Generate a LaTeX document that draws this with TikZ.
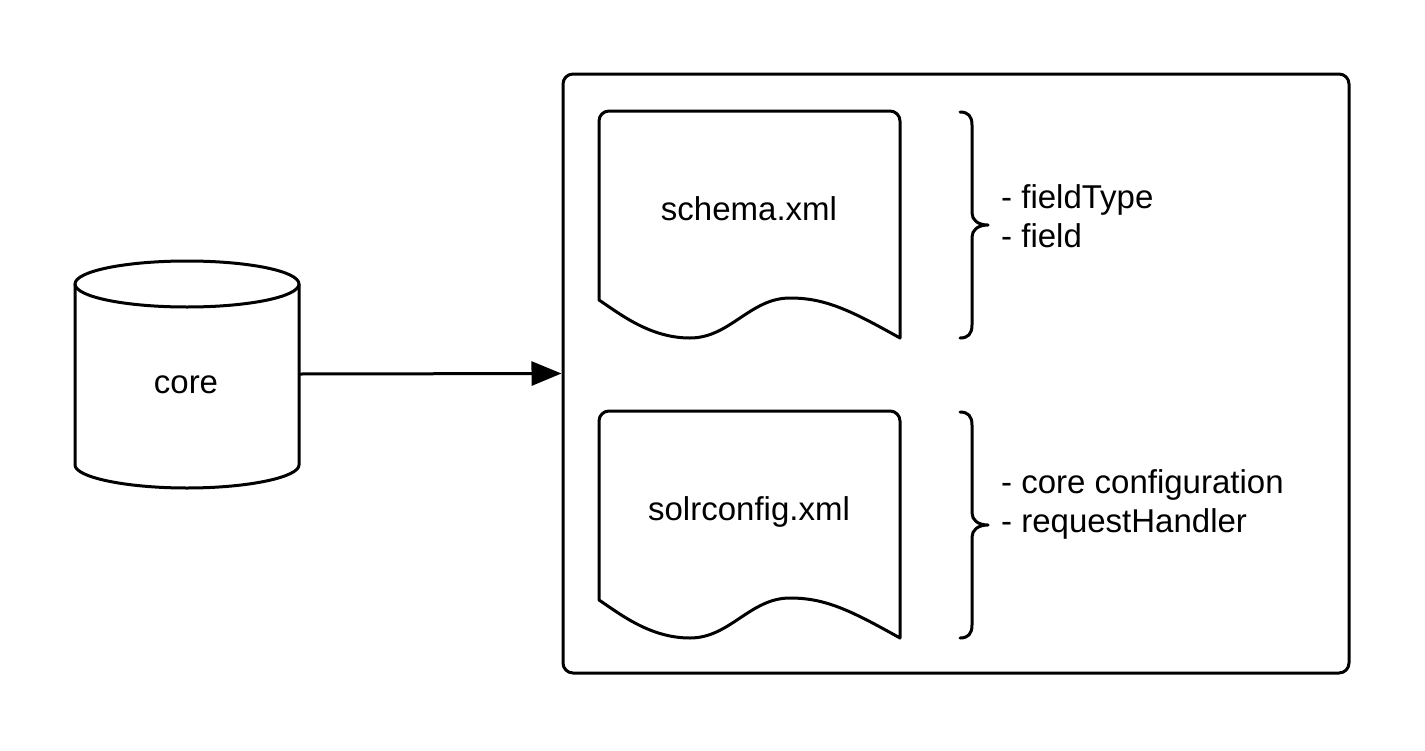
\documentclass[tikz,border=0pt]{standalone}
\usepackage{fontspec}
\setmainfont{Liberation Sans}
\usetikzlibrary{arrows.meta}
\tikzset{
  shape line/.style={line width=3pt, line join=round, line cap=round},
  label text/.style={inner sep=0pt, font=\fontsize{33}{40}\selectfont},
  side text/.style={inner sep=0pt, anchor=base west, font=\fontsize{33}{40}\selectfont},
}
\begin{document}
\begin{tikzpicture}[x=1pt,y=-1pt]
\useasboundingbox (0,0) rectangle (1425,750);
% cylinder "core"
\draw[shape line] (187,284) ellipse [x radius=112, y radius=23];
\draw[shape line] (75,284) -- (75,465)
  .. controls (75,477) and (125,488) .. (187,488)
  .. controls (249,488) and (299,477) .. (299,465) -- (299,284);
\node[inner sep=0pt, minimum width=224pt, minimum height=180pt] (cyl) at (187,374) {};
\node[label text, anchor=base] (core) at (186,393) {core};
% container
\node[shape line, draw, rounded corners=10pt, minimum width=786pt, minimum height=599pt, inner sep=0pt] (box) at (956,373.5) {};
% arrow
\draw[line width=3pt, -{Triangle[length=30pt,width=24pt]}] (cyl.east) -- (box.west);
% documents
\foreach \dy/\nm/\txt in {0/schema/schema.xml, 300/solr/solrconfig.xml}{
  \begin{scope}[shift={(0,\dy)}]
    \draw[shape line] (599,300) [rounded corners=10pt] -- (599,111) -- (900,111) [sharp corners] -- (900,338)
      .. controls (850,310) and (825,298) .. (790,298)
      .. controls (750,298) and (730,338) .. (690,338)
      .. controls (650,338) and (620,314) .. (599,300) -- cycle;
    \node[label text, anchor=base] (\nm) at (749,220) {\txt};
    \draw[shape line] (960,112) .. controls (968,112) and (972,116) .. (972,125) -- (972,213)
      .. controls (972,220) and (978,225) .. (988,225)
      .. controls (978,225) and (972,230) .. (972,237) -- (972,325)
      .. controls (972,334) and (968,338) .. (960,338);
  \end{scope}
}
\node[side text] (ft) at (1001,208) {- fieldType};
\node[side text] (fd) at (1001,247) {- field};
\node[side text] (cc) at (1001,493) {- core configuration};
\node[side text] (rh) at (1001,532) {- requestHandler};
\end{tikzpicture}
\end{document}
